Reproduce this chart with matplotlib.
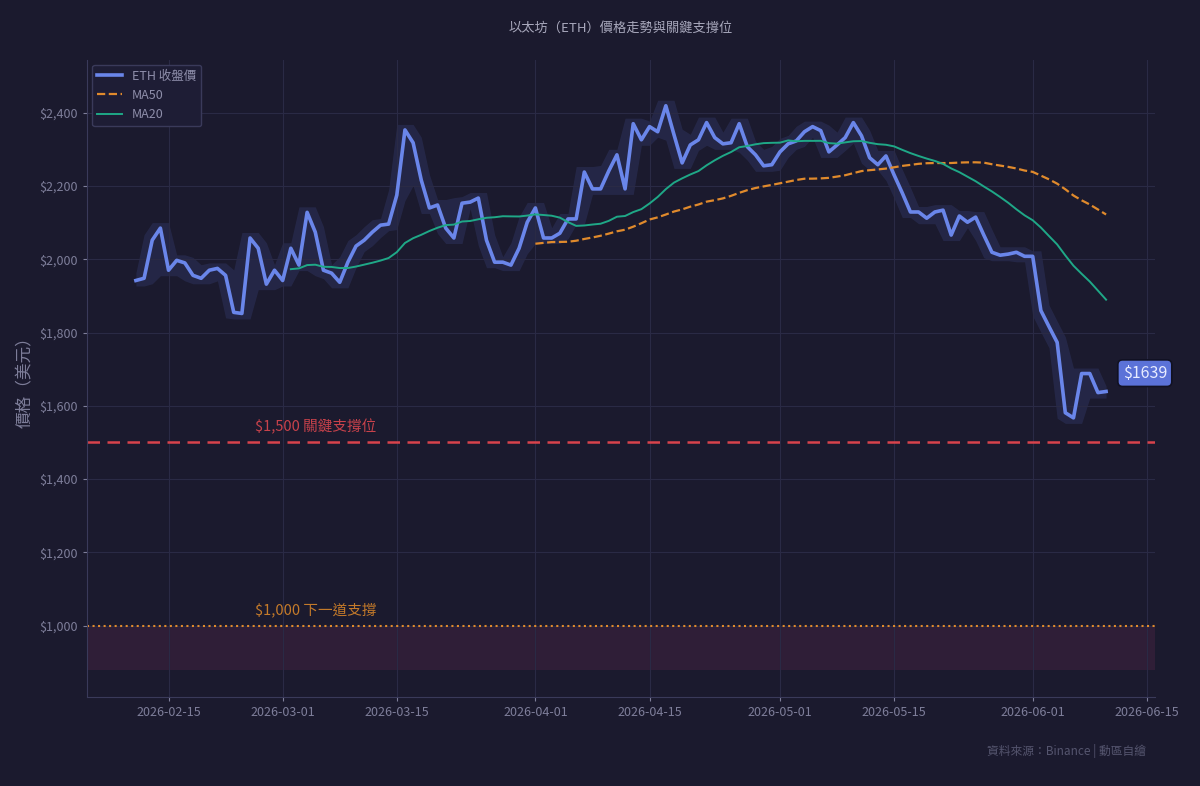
import matplotlib
matplotlib.use("Agg")
import matplotlib.pyplot as plt
import matplotlib.dates as mdates
import matplotlib.ticker as mticker
import pandas as pd
import numpy as np

plt.rcParams['font.family'] = ['Noto Sans CJK TC', 'DejaVu Sans']

start_date = "2026-02-11"
close = [1942,1948,2052,2085,1970,1997,1990,1956,1948,1970,1975,1956,1855,1852,2058,2030,1932,1970,
         1942,2030,1984,2128,2074,1970,1962,1937,1992,2036,2052,2074,2093,2096,2175,2353,2318,2216,2140,2148,2085,2058,2153,2156,2167,2052,1992,1992,1984,2030,2101,
         2140,2058,2058,2071,2110,2110,2238,2192,2192,2241,2285,2192,2370,2326,2362,2348,2419,2340,2263,2312,2326,2373,2332,2315,2318,2370,2307,2285,2255,2258,
         2293,2315,2323,2348,2362,2351,2293,2312,2332,2373,2337,2277,2258,2282,2230,2181,2129,2129,2112,2129,2134,2066,2118,2101,2115,2066,2019,2011,2014,2019,2008,
         2008,1860,1816,1773,1581,1567,1688,1688,1636,1639]
support_main = 1500
support_next = 1000
zone_low = 880
last_label = "$1639"

dates = pd.date_range(start_date, periods=len(close), freq="D")
s = pd.Series(close, index=dates, dtype=float)
ma20 = s.rolling(20).mean()
ma50 = s.rolling(50).mean()
hi = s.rolling(3, center=True, min_periods=1).max() + 15
lo = s.rolling(3, center=True, min_periods=1).min() - 15

bg = "#1b1a2e"
fig = plt.figure(figsize=(12, 7.86), dpi=100, facecolor=bg)
ax = fig.add_axes([0.0725, 0.1132, 0.89, 0.811], facecolor=bg)

ax.axhspan(zone_low, support_next, color="#35203a", alpha=0.8, lw=0)
ax.fill_between(dates, lo, hi, color="#3b4580", alpha=0.3, lw=0)
l1, = ax.plot(dates, s, color="#6a86ea", lw=2.6, label="ETH 收盤價")
l2, = ax.plot(dates, ma50, color="#e08a2c", lw=1.6, ls="--", label="MA50")
l3, = ax.plot(dates, ma20, color="#1fa887", lw=1.4, label="MA20")
ax.axhline(support_main, color="#d8434c", lw=1.8, ls=(0, (5, 3)))
ax.axhline(support_next, color="#e08a2c", lw=1.5, ls=":")

ax.text(pd.Timestamp("2026-03-05"), support_main + 22, "$1,500 關鍵支撐位", color="#c8424b", fontsize=10.5, ha="center", va="bottom")
ax.text(pd.Timestamp("2026-03-05"), support_next + 22, "$1,000 下一道支撐", color="#c47a2a", fontsize=10.5, ha="center", va="bottom")
ax.text(pd.Timestamp("2026-06-14 18:00"), s.iloc[-1] + 50, last_label, fontsize=11.5, color="#e8ecff", ha="center", va="center",
        bbox=dict(boxstyle="round,pad=0.3", fc="#5b72d8", ec="#111122", lw=1.2), clip_on=False)

ax.set_xlim(pd.Timestamp("2026-02-05"), pd.Timestamp("2026-06-16"))
ax.set_ylim(805, 2545)
ax.xaxis.set_major_locator(mdates.DayLocator(bymonthday=[1, 15]))
ax.xaxis.set_major_formatter(mdates.DateFormatter("%Y-%m-%d"))
ax.yaxis.set_major_locator(mticker.MultipleLocator(200))
ax.yaxis.set_major_formatter(mticker.FuncFormatter(lambda v, p: f"${v:,.0f}"))
ax.tick_params(colors="#7e7e9a", labelsize=9, length=3)
ax.grid(True, color="#2a2a45", lw=0.8)
for sp in ["top", "right"]:
    ax.spines[sp].set_visible(False)
for sp in ["left", "bottom"]:
    ax.spines[sp].set_color("#3a3a5a")
ax.set_ylabel("價格（美元）", color="#7e7e9a", fontsize=12)
ax.set_title("以太坊（ETH）價格走勢與關鍵支撐位", color="#a8a8bc", fontsize=9.5, pad=20)
leg = ax.legend(handles=[l1, l2, l3], loc="upper left", fontsize=9, facecolor="#1e1d35", edgecolor="#3a3a5a",
                labelcolor="#8e8eaa", framealpha=1, borderaxespad=0.4)
fig.text(0.955, 0.04, "資料來源：Binance | 動區自繪", color="#55556e", fontsize=8.5, ha="right")
fig.savefig("out.png", dpi=100, facecolor=bg)
